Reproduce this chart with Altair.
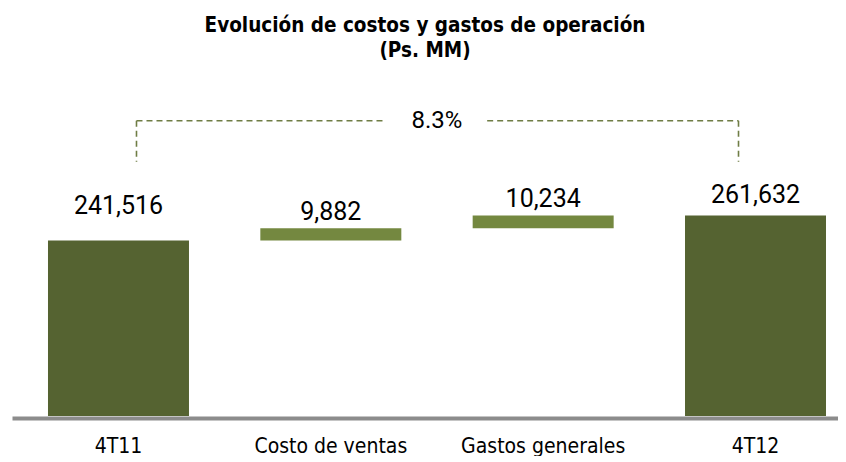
import altair as alt
import pandas as pd

# ---- data ----
categories = ["4T11", "Costo de ventas", "Gastos generales", "4T12"]
values = [241516, 9882, 10234, 261632]
kinds = ["total", "delta", "delta", "total"]

# waterfall geometry built from the values
rows = []
running = 0
for c, v, k in zip(categories, values, kinds):
    if k == "total":
        base, top = 0, v
        running = v
    else:
        base, top = running, running + v
        running = top
    rows.append(dict(cat=c, value=v, kind=k, base=base, top=top, label=f"{v:,}"))
df = pd.DataFrame(rows)

pct_label = f"{(values[-1] / values[0] - 1) * 100:.1f}%"

# annotation (bracket) levels, in data units
bracket_level = 338000
bracket_leg_end = 305000

LABEL_FONT = "Liberation Sans Narrow, DejaVu Sans Condensed, Roboto Condensed, Liberation Sans, sans-serif"
NUM_FONT = "Roboto"
DARK = "#556331"
LIGHT = "#748840"
DASH = "#6f7d45"

xscale = alt.Scale(domain=categories, paddingInner=0.336, paddingOuter=0.113, align=0.75)
x_enc = alt.X(
    "cat:N", sort=categories, scale=xscale,
    axis=alt.Axis(title=None, labelAngle=0, ticks=False, grid=False,
                  domainColor="#8c8c8c", domainWidth=4, offset=2,
                  labelFont=LABEL_FONT, labelFontSize=21, labelColor="#000000",
                  labelPadding=17),
)
yscale = alt.Scale(domain=[100000, 370000], nice=False, zero=False)

base = alt.Chart(df)

bars = base.mark_bar(clip=True).encode(
    x=x_enc,
    y=alt.Y("top:Q", scale=yscale, axis=None),
    y2="base:Q",
    color=alt.Color("kind:N", scale=alt.Scale(domain=["total", "delta"], range=[DARK, LIGHT]), legend=None),
)

def value_labels(cat_list, dy):
    return base.transform_filter(
        alt.FieldOneOfPredicate(field="cat", oneOf=cat_list)
    ).mark_text(font=NUM_FONT, fontSize=25, baseline="alphabetic", dy=dy, color="#000000").encode(
        x=alt.X("cat:N", sort=categories),
        y=alt.Y("top:Q"),
        text="label:N",
    )

lab_mid = value_labels(["Costo de ventas", "Gastos generales"], -8)
lab_end = value_labels(["4T12"], -12)
lab_start = value_labels(["4T11"], -26)

leg_left = alt.Chart(pd.DataFrame({"cat": [categories[0]]})).mark_rule(
    color=DASH, strokeDash=[6, 4], strokeWidth=1.6, xOffset=18
).encode(x=alt.X("cat:N", sort=categories), y=alt.datum(bracket_level), y2=alt.datum(bracket_leg_end))

leg_right = alt.Chart(pd.DataFrame({"cat": [categories[-1]]})).mark_rule(
    color=DASH, strokeDash=[6, 4], strokeWidth=1.6, xOffset=-17
).encode(x=alt.X("cat:N", sort=categories), y=alt.datum(bracket_level), y2=alt.datum(bracket_leg_end))

seg_left = alt.Chart(pd.DataFrame({"a": [categories[0]], "b": [categories[1]]})).mark_rule(
    color=DASH, strokeDash=[6, 4], strokeWidth=1.6, xOffset=18, x2Offset=54
).encode(x=alt.X("a:N", sort=categories), x2="b:N", y=alt.datum(bracket_level))

seg_right = alt.Chart(pd.DataFrame({"a": [categories[2]], "b": [categories[3]]})).mark_rule(
    color=DASH, strokeDash=[6, 4], strokeWidth=1.6, xOffset=-56, x2Offset=-17
).encode(x=alt.X("a:N", sort=categories), x2="b:N", y=alt.datum(bracket_level))

pct = alt.Chart(pd.DataFrame({"cat": [categories[1]], "t": [pct_label]})).mark_text(
    font=NUM_FONT, fontSize=24, baseline="middle", xOffset=106, color="#000000"
).encode(x=alt.X("cat:N", sort=categories), y=alt.datum(bracket_level), text="t:N")

chart = alt.layer(
    bars, lab_mid, lab_end, lab_start, leg_left, leg_right, seg_left, seg_right, pct
).resolve_scale(x="shared", y="shared").properties(
    width=826, height=335,
    padding={"left": 4, "right": 0, "top": 7, "bottom": 0},
    title=alt.Title(
        ["Evolución de costos y gastos de operación", "(Ps. MM)"],
        font=LABEL_FONT, fontSize=20.5, fontWeight="bold", color="#000000",
        anchor="middle", lineHeight=25, offset=20,
    ),
).configure_view(stroke=None)

chart.save("out.html", embed_options={"renderer": "svg", "actions": False})
